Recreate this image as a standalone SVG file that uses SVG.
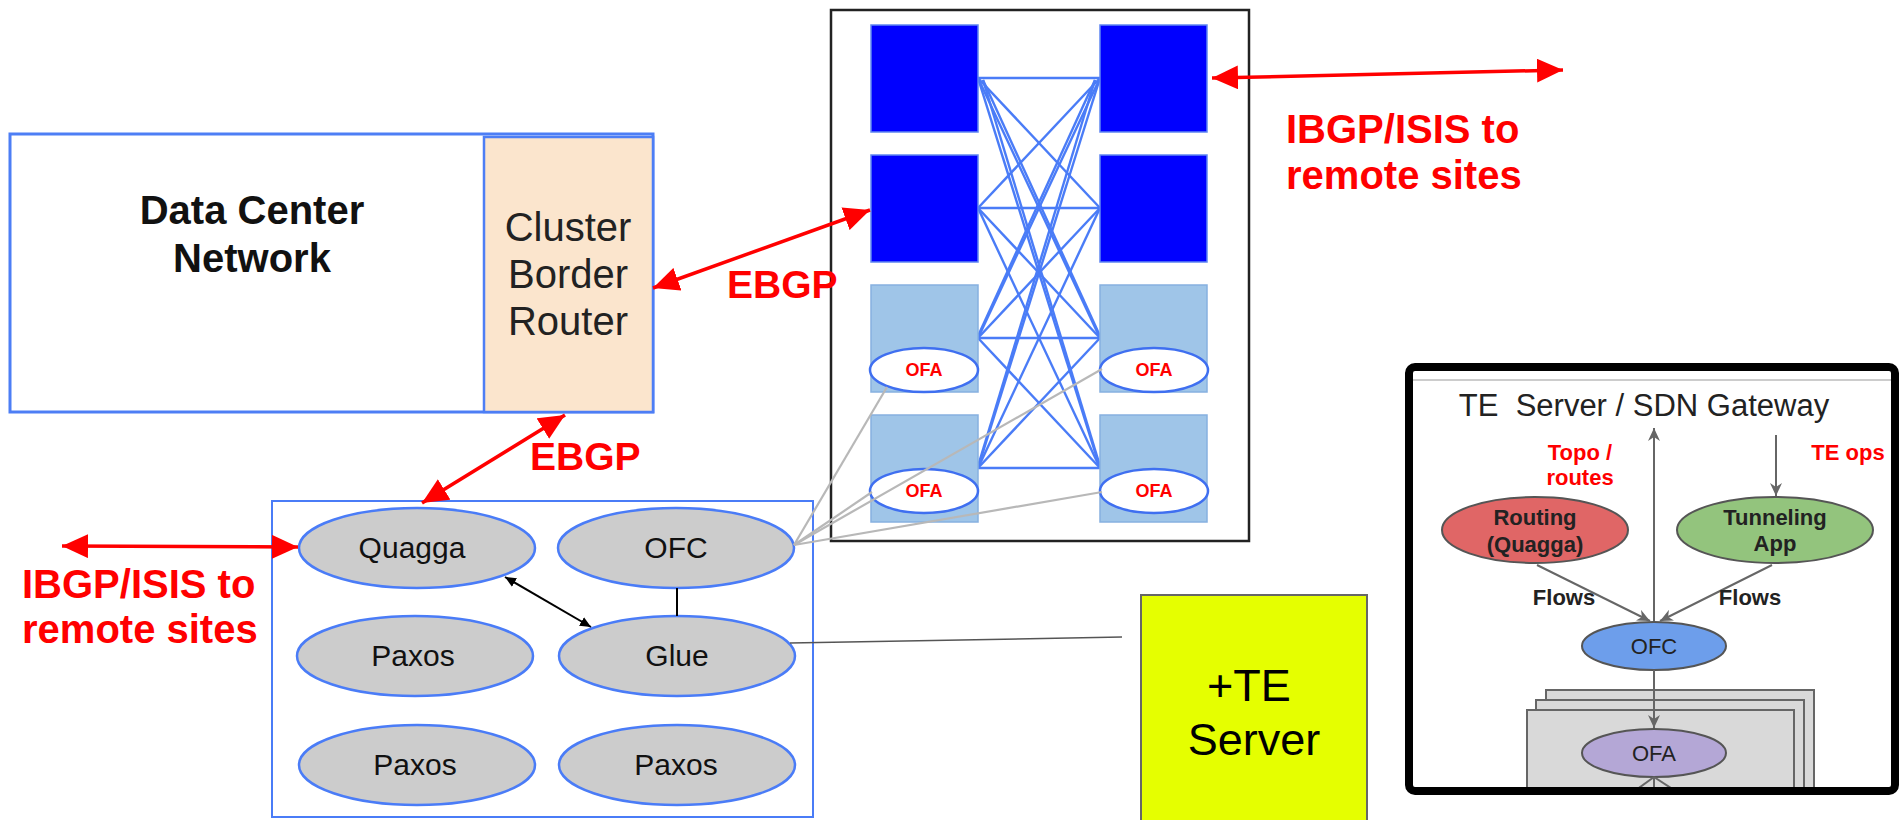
<svg xmlns="http://www.w3.org/2000/svg" width="1902" height="820" viewBox="0 0 1902 820">
<style>
text{font-family:"Liberation Sans",Arial,sans-serif}
.red{fill:#ff0000;font-weight:bold}
.dark{fill:#0000ff;stroke:#5f86f2;stroke-width:1.5}
.light{fill:#9fc5e8;stroke:#86b0e0;stroke-width:1.5}
.ofa{fill:#fff;stroke:#3f6ff0;stroke-width:2.5}
.ofat{font-size:18px;font-weight:bold;fill:#ff0000;text-anchor:middle}
.mesh line{stroke:#4a7cf7;stroke-width:2.4}
.proc{fill:#cccccc;stroke:#4a7cf7;stroke-width:2.5}
.pt{font-size:30px;fill:#111;text-anchor:middle}
.rarrow{stroke:#ff0000;stroke-width:3.5;fill:none;marker-start:url(#ra);marker-end:url(#ra)}
.gline{stroke:#b8b8b8;stroke-width:2.2}
.pn{stroke:#555;stroke-width:2}
.pt2{font-size:22px;font-weight:bold;fill:#222;text-anchor:middle}
.garrow{stroke:#666;stroke-width:2;fill:none;marker-end:url(#ga)}
</style>
<defs>
<marker id="ra" markerUnits="userSpaceOnUse" markerWidth="28" markerHeight="24" refX="26" refY="12" orient="auto-start-reverse"><path d="M0,0 L26,12 L0,24 Z" fill="#ff0000"/></marker>
<marker id="ba" markerUnits="userSpaceOnUse" markerWidth="12" markerHeight="10" refX="11" refY="5" orient="auto-start-reverse"><path d="M0,0 L11,5 L0,10 Z" fill="#000"/></marker>
<marker id="ga" markerUnits="userSpaceOnUse" markerWidth="14" markerHeight="12" refX="13" refY="6" orient="auto"><path d="M0,0 L13,6 L0,12 L4,6 Z" fill="#666"/></marker>
<clipPath id="panelclip"><rect x="1413" y="371" width="478" height="416"/></clipPath>
</defs>

<g id="dc-network">
<rect x="10" y="134" width="643" height="278" fill="#fff" stroke="#4d7ef5" stroke-width="3"/>
<text x="252" y="224" font-size="40" font-weight="bold" text-anchor="middle" fill="#111">Data Center</text>
<text x="252" y="272" font-size="40" font-weight="bold" text-anchor="middle" fill="#111">Network</text>
</g>

<g id="cluster-border-router">
<rect x="484" y="137" width="169" height="275" fill="#fbe5cd" stroke="#4d7ef5" stroke-width="2.5"/>
<text x="568" y="241" font-size="40" text-anchor="middle" fill="#222">Cluster</text>
<text x="568" y="288" font-size="40" text-anchor="middle" fill="#222">Border</text>
<text x="568" y="335" font-size="40" text-anchor="middle" fill="#222">Router</text>
</g>

<g id="fabric">
<rect x="831" y="10" width="418" height="531" fill="#fff" stroke="#222" stroke-width="2.5"/>
<g class="mesh">
<line x1="978" y1="78" x2="1100" y2="78"/><line x1="978" y1="78" x2="1100" y2="208"/><line x1="978" y1="78" x2="1100" y2="338"/><line x1="978" y1="78" x2="1100" y2="468"/>
<line x1="978" y1="208" x2="1100" y2="78"/><line x1="978" y1="208" x2="1100" y2="208"/><line x1="978" y1="208" x2="1100" y2="338"/><line x1="978" y1="208" x2="1100" y2="468"/>
<line x1="978" y1="338" x2="1100" y2="78"/><line x1="978" y1="338" x2="1100" y2="208"/><line x1="978" y1="338" x2="1100" y2="338"/><line x1="978" y1="338" x2="1100" y2="468"/>
<line x1="978" y1="468" x2="1100" y2="78"/><line x1="978" y1="468" x2="1100" y2="208"/><line x1="978" y1="468" x2="1100" y2="338"/><line x1="978" y1="468" x2="1100" y2="468"/>
<line x1="983" y1="80" x2="1100" y2="466"/><line x1="1095" y1="80" x2="978" y2="466"/><line x1="983" y1="80" x2="1100" y2="336"/><line x1="1095" y1="80" x2="978" y2="336"/>
</g>
<rect class="dark" x="871" y="25" width="107" height="107"/>
<rect class="dark" x="1100" y="25" width="107" height="107"/>
<rect class="dark" x="871" y="155" width="107" height="107"/>
<rect class="dark" x="1100" y="155" width="107" height="107"/>
<rect class="light" x="871" y="285" width="107" height="107"/>
<rect class="light" x="1100" y="285" width="107" height="107"/>
<rect class="light" x="871" y="415" width="107" height="107"/>
<rect class="light" x="1100" y="415" width="107" height="107"/>
</g>
<g id="ofa-1"><ellipse class="ofa" cx="924" cy="370" rx="54" ry="22"/><text class="ofat" x="924" y="376">OFA</text></g>
<g id="ofa-2"><ellipse class="ofa" cx="1154" cy="370" rx="54" ry="22"/><text class="ofat" x="1154" y="376">OFA</text></g>
<g id="ofa-3"><ellipse class="ofa" cx="924" cy="491" rx="54" ry="22"/><text class="ofat" x="924" y="497">OFA</text></g>
<g id="ofa-4"><ellipse class="ofa" cx="1154" cy="491" rx="54" ry="22"/><text class="ofat" x="1154" y="497">OFA</text></g>

<g id="controller">
<rect x="272" y="501" width="541" height="316" fill="#fff" stroke="#4a7cf7" stroke-width="2"/>
</g>
<g id="quagga"><ellipse class="proc" cx="417" cy="548" rx="118" ry="40"/><text class="pt" x="412" y="558">Quagga</text></g>
<g id="ofc"><ellipse class="proc" cx="676" cy="548" rx="118" ry="40"/><text class="pt" x="676" y="558">OFC</text></g>
<g id="paxos-1"><ellipse class="proc" cx="415" cy="656" rx="118" ry="40"/><text class="pt" x="413" y="666">Paxos</text></g>
<g id="glue"><ellipse class="proc" cx="677" cy="656" rx="118" ry="40"/><text class="pt" x="677" y="666">Glue</text></g>
<g id="paxos-2"><ellipse class="proc" cx="417" cy="765" rx="118" ry="40"/><text class="pt" x="415" y="775">Paxos</text></g>
<g id="paxos-3"><ellipse class="proc" cx="677" cy="765" rx="118" ry="40"/><text class="pt" x="676" y="775">Paxos</text></g>

<g id="te-server">
<rect x="1141" y="595" width="226" height="240" fill="#e5ff00" stroke="#666" stroke-width="2"/>
<text x="1249" y="701" font-size="45" text-anchor="middle" fill="#000">+TE</text>
<text x="1254" y="755" font-size="45" text-anchor="middle" fill="#000">Server</text>
</g>

<g id="connectors">
<line class="rarrow" x1="1563" y1="70" x2="1212" y2="78"/>
<line class="rarrow" x1="870" y1="210" x2="653" y2="288"/>
<line class="rarrow" x1="565" y1="415" x2="422" y2="503"/>
<line class="rarrow" x1="62" y1="546" x2="298" y2="547"/>
<line x1="505" y1="577" x2="591" y2="627" stroke="#000" stroke-width="2" marker-start="url(#ba)" marker-end="url(#ba)"/>
<line x1="677" y1="588" x2="677" y2="616" stroke="#000" stroke-width="2"/>
<line x1="790" y1="643" x2="1122" y2="637" stroke="#555" stroke-width="1.5"/>
<line class="gline" x1="794" y1="545" x2="887" y2="387"/>
<line class="gline" x1="794" y1="545" x2="872" y2="492"/>
<line class="gline" x1="794" y1="545" x2="1102" y2="369"/>
<line class="gline" x1="794" y1="545" x2="1102" y2="492"/>
</g>

<g id="labels">
<text class="red" x="727" y="298" font-size="39">EBGP</text>
<text class="red" x="530" y="470" font-size="39">EBGP</text>
<text class="red" x="1286" y="143" font-size="40">IBGP/ISIS to</text>
<text class="red" x="1286" y="189" font-size="40">remote sites</text>
<text class="red" x="22" y="598" font-size="40">IBGP/ISIS to</text>
<text class="red" x="22" y="643" font-size="40">remote sites</text>
</g>

<g id="te-panel">
<rect x="1413" y="371" width="478" height="416" fill="#fff"/>
<g clip-path="url(#panelclip)">
<line x1="1413" y1="380" x2="1891" y2="380" stroke="#cccccc" stroke-width="2"/>
<text x="1644" y="416" font-size="31" text-anchor="middle" fill="#222" xml:space="preserve">TE  Server / SDN Gateway</text>
<text class="red" x="1580" y="460" font-size="22" text-anchor="middle">Topo /</text>
<text class="red" x="1580" y="485" font-size="22" text-anchor="middle">routes</text>
<text class="red" x="1848" y="460" font-size="22" text-anchor="middle">TE ops</text>
<g id="te-stack">
<rect x="1546" y="690" width="268" height="120" fill="#d9d9d9" stroke="#666" stroke-width="2"/>
<rect x="1536" y="700" width="268" height="120" fill="#d9d9d9" stroke="#666" stroke-width="2"/>
<rect x="1527" y="710" width="267" height="120" fill="#d9d9d9" stroke="#666" stroke-width="2"/>
</g>
<g id="te-routing"><ellipse cx="1535" cy="530" rx="93" ry="33" fill="#e06666" class="pn"/><text class="pt2" x="1535" y="525">Routing</text><text class="pt2" x="1535" y="552">(Quagga)</text></g>
<g id="te-tunneling"><ellipse cx="1775" cy="530" rx="98" ry="33" fill="#93c47d" class="pn"/><text class="pt2" x="1775" y="525">Tunneling</text><text class="pt2" x="1775" y="551">App</text></g>
<g id="te-ofc"><ellipse cx="1654" cy="646" rx="72" ry="24" fill="#6d9eeb" class="pn"/><text x="1654" y="654" font-size="22" text-anchor="middle" fill="#222">OFC</text></g>
<g id="te-ofa"><ellipse cx="1654" cy="753" rx="72" ry="24" fill="#b4a7d6" class="pn"/><text x="1654" y="761" font-size="22" text-anchor="middle" fill="#222">OFA</text></g>
<g id="te-connectors">
<line class="garrow" x1="1654" y1="621" x2="1654" y2="428"/>
<line class="garrow" x1="1776" y1="435" x2="1776" y2="496"/>
<line class="garrow" x1="1537" y1="565" x2="1650" y2="621"/>
<line class="garrow" x1="1772" y1="565" x2="1660" y2="621"/>
<line class="garrow" x1="1654" y1="670" x2="1654" y2="728"/>
<line x1="1654" y1="777" x2="1636" y2="790" stroke="#666" stroke-width="2"/>
<line x1="1654" y1="777" x2="1674" y2="790" stroke="#666" stroke-width="2"/>
<line x1="1654" y1="777" x2="1654" y2="790" stroke="#666" stroke-width="2"/>
</g>
<text class="pt2" x="1564" y="605">Flows</text>
<text class="pt2" x="1750" y="605">Flows</text>
</g>
<rect x="1409" y="367" width="486" height="424" rx="6" fill="none" stroke="#000" stroke-width="8"/>
</g>
</svg>
